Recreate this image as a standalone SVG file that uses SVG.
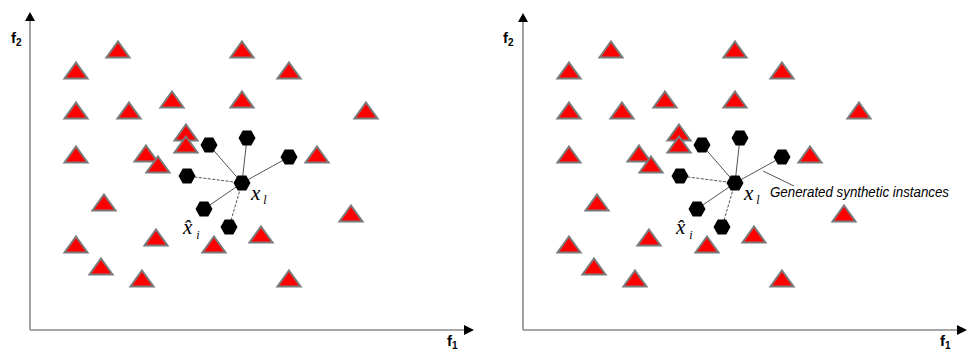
<svg xmlns="http://www.w3.org/2000/svg" xmlns:xlink="http://www.w3.org/1999/xlink" width="971" height="352" viewBox="0 0 971 352">
<style>
.tri{fill:#ff0000;stroke:#7a7a7a;stroke-width:2;stroke-linejoin:miter}
.hex{fill:#000}
.axis{stroke:#8a8a8a;stroke-width:1.6;fill:none}
.ah{fill:#000}
.con{stroke:#555;stroke-width:1;fill:none}
.dash{stroke-dasharray:3,1.5}
.ax{font-family:"Liberation Sans",Arial,sans-serif;font-weight:bold;fill:#000}
.m{font-family:"Liberation Serif","Times New Roman",serif;font-style:italic;fill:#000}
.call{font-family:"Liberation Sans",Arial,sans-serif;font-style:italic;font-size:14px;fill:#000}
</style>
<defs>
<path id="tri" d="M0,-16.5 L11.5,-0.5 L-11.5,-0.5 Z"/>
<polygon id="hex" points="-8.5,0 -4.3,-7.5 4.3,-7.5 8.5,0 4.3,7.5 -4.3,7.5"/>
</defs>
<rect width="971" height="352" fill="#fff"/>

<!-- LEFT PANEL -->
<g id="left">
<g id="L-axes">
<line class="axis" x1="30" y1="20" x2="30" y2="330"/>
<line class="axis" x1="30" y1="330" x2="465" y2="330"/>
<polygon class="ah" points="30,12 25,21 35,21"/>
<polygon class="ah" points="474,330 464,325 464,335"/>
<text class="ax" x="11" y="43" font-size="15">f<tspan font-size="10" dy="3">2</tspan></text>
<text class="ax" x="447" y="346" font-size="15">f<tspan font-size="10" dy="3">1</tspan></text>
</g>
<g id="L-connectors">
<line class="con" x1="242" y1="183" x2="209" y2="145"/>
<line class="con" x1="242" y1="183" x2="247" y2="138"/>
<line class="con" x1="242" y1="183" x2="289" y2="157"/>
<line class="con dash" x1="242" y1="183" x2="187" y2="176"/>
<line class="con" x1="242" y1="183" x2="204" y2="209"/>
<line class="con dash" x1="242" y1="183" x2="229" y2="227"/>
</g>
<g id="L-t1"><use xlink:href="#tri" class="tri" x="118" y="58"/></g>
<g id="L-t2"><use xlink:href="#tri" class="tri" x="242" y="58"/></g>
<g id="L-t3"><use xlink:href="#tri" class="tri" x="76" y="79"/></g>
<g id="L-t4"><use xlink:href="#tri" class="tri" x="289" y="79"/></g>
<g id="L-t5"><use xlink:href="#tri" class="tri" x="76" y="119"/></g>
<g id="L-t6"><use xlink:href="#tri" class="tri" x="129" y="119"/></g>
<g id="L-t7"><use xlink:href="#tri" class="tri" x="172" y="108"/></g>
<g id="L-t8"><use xlink:href="#tri" class="tri" x="242" y="108"/></g>
<g id="L-t9"><use xlink:href="#tri" class="tri" x="366" y="119"/></g>
<g id="L-t10"><use xlink:href="#tri" class="tri" x="186" y="141"/></g>
<g id="L-t11"><use xlink:href="#tri" class="tri" x="186" y="153"/></g>
<g id="L-t12"><use xlink:href="#tri" class="tri" x="76" y="163"/></g>
<g id="L-t13"><use xlink:href="#tri" class="tri" x="146" y="162"/></g>
<g id="L-t14"><use xlink:href="#tri" class="tri" x="158" y="173"/></g>
<g id="L-t15"><use xlink:href="#tri" class="tri" x="317" y="163"/></g>
<g id="L-t16"><use xlink:href="#tri" class="tri" x="104" y="211"/></g>
<g id="L-t17"><use xlink:href="#tri" class="tri" x="351" y="222"/></g>
<g id="L-t18"><use xlink:href="#tri" class="tri" x="76" y="253"/></g>
<g id="L-t19"><use xlink:href="#tri" class="tri" x="156" y="246"/></g>
<g id="L-t20"><use xlink:href="#tri" class="tri" x="214" y="253"/></g>
<g id="L-t21"><use xlink:href="#tri" class="tri" x="261" y="243"/></g>
<g id="L-t22"><use xlink:href="#tri" class="tri" x="101" y="275"/></g>
<g id="L-t23"><use xlink:href="#tri" class="tri" x="142" y="287"/></g>
<g id="L-t24"><use xlink:href="#tri" class="tri" x="289" y="287"/></g>
<g id="L-xl"><use xlink:href="#hex" class="hex" x="242" y="183"/>
<text class="m" x="251" y="200" font-size="21">x<tspan font-size="12" dx="3" dy="4">l</tspan></text></g>
<g id="L-h1"><use xlink:href="#hex" class="hex" x="209" y="145"/></g>
<g id="L-h2"><use xlink:href="#hex" class="hex" x="247" y="138"/></g>
<g id="L-h3"><use xlink:href="#hex" class="hex" x="289" y="157"/></g>
<g id="L-h4"><use xlink:href="#hex" class="hex" x="187" y="176"/></g>
<g id="L-h5"><use xlink:href="#hex" class="hex" x="204" y="209"/>
<text class="m" x="183" y="234" font-size="21">x&#770;<tspan font-size="12" dx="4" dy="5">i</tspan></text></g>
<g id="L-h6"><use xlink:href="#hex" class="hex" x="229" y="227"/></g>
</g>

<!-- RIGHT PANEL -->
<g id="right">
<g id="R-axes">
<line class="axis" x1="523" y1="21" x2="523" y2="330"/>
<line class="axis" x1="523" y1="330" x2="958" y2="330"/>
<polygon class="ah" points="523,13 518,22 528,22"/>
<polygon class="ah" points="967,330 957,325 957,335"/>
<text class="ax" x="503" y="43" font-size="15">f<tspan font-size="10" dy="3">2</tspan></text>
<text class="ax" x="940" y="346" font-size="15">f<tspan font-size="10" dy="3">1</tspan></text>
</g>
<g id="R-connectors">
<line class="con" x1="735" y1="183" x2="702" y2="145"/>
<line class="con" x1="735" y1="183" x2="740" y2="138"/>
<line class="con" x1="735" y1="183" x2="782" y2="157"/>
<line class="con dash" x1="735" y1="183" x2="680" y2="176"/>
<line class="con" x1="735" y1="183" x2="697" y2="209"/>
<line class="con dash" x1="735" y1="183" x2="722" y2="227"/>
<line class="con" x1="763" y1="171" x2="794" y2="186"/>
</g>
<g id="R-t1"><use xlink:href="#tri" class="tri" x="611" y="58"/></g>
<g id="R-t2"><use xlink:href="#tri" class="tri" x="735" y="58"/></g>
<g id="R-t3"><use xlink:href="#tri" class="tri" x="569" y="79"/></g>
<g id="R-t4"><use xlink:href="#tri" class="tri" x="782" y="79"/></g>
<g id="R-t5"><use xlink:href="#tri" class="tri" x="569" y="119"/></g>
<g id="R-t6"><use xlink:href="#tri" class="tri" x="622" y="119"/></g>
<g id="R-t7"><use xlink:href="#tri" class="tri" x="665" y="108"/></g>
<g id="R-t8"><use xlink:href="#tri" class="tri" x="735" y="108"/></g>
<g id="R-t9"><use xlink:href="#tri" class="tri" x="859" y="119"/></g>
<g id="R-t10"><use xlink:href="#tri" class="tri" x="679" y="141"/></g>
<g id="R-t11"><use xlink:href="#tri" class="tri" x="679" y="153"/></g>
<g id="R-t12"><use xlink:href="#tri" class="tri" x="569" y="163"/></g>
<g id="R-t13"><use xlink:href="#tri" class="tri" x="639" y="162"/></g>
<g id="R-t14"><use xlink:href="#tri" class="tri" x="651" y="173"/></g>
<g id="R-t15"><use xlink:href="#tri" class="tri" x="810" y="163"/></g>
<g id="R-t16"><use xlink:href="#tri" class="tri" x="597" y="211"/></g>
<g id="R-t17"><use xlink:href="#tri" class="tri" x="844" y="222"/></g>
<g id="R-t18"><use xlink:href="#tri" class="tri" x="569" y="253"/></g>
<g id="R-t19"><use xlink:href="#tri" class="tri" x="649" y="246"/></g>
<g id="R-t20"><use xlink:href="#tri" class="tri" x="707" y="253"/></g>
<g id="R-t21"><use xlink:href="#tri" class="tri" x="754" y="243"/></g>
<g id="R-t22"><use xlink:href="#tri" class="tri" x="594" y="275"/></g>
<g id="R-t23"><use xlink:href="#tri" class="tri" x="635" y="287"/></g>
<g id="R-t24"><use xlink:href="#tri" class="tri" x="782" y="287"/></g>
<g id="R-xl"><use xlink:href="#hex" class="hex" x="735" y="183"/>
<text class="m" x="744" y="200" font-size="21">x<tspan font-size="12" dx="3" dy="4">l</tspan></text></g>
<g id="R-h1"><use xlink:href="#hex" class="hex" x="702" y="145"/></g>
<g id="R-h2"><use xlink:href="#hex" class="hex" x="740" y="138"/></g>
<g id="R-h3"><use xlink:href="#hex" class="hex" x="782" y="157"/></g>
<g id="R-h4"><use xlink:href="#hex" class="hex" x="680" y="176"/></g>
<g id="R-h5"><use xlink:href="#hex" class="hex" x="697" y="209"/>
<text class="m" x="676" y="234" font-size="21">x&#770;<tspan font-size="12" dx="4" dy="5">i</tspan></text></g>
<g id="R-h6"><use xlink:href="#hex" class="hex" x="722" y="227"/></g>
<g id="R-label"><text class="call" x="770" y="197" textLength="179" lengthAdjust="spacingAndGlyphs">Generated synthetic instances</text></g>
</g>
</svg>
